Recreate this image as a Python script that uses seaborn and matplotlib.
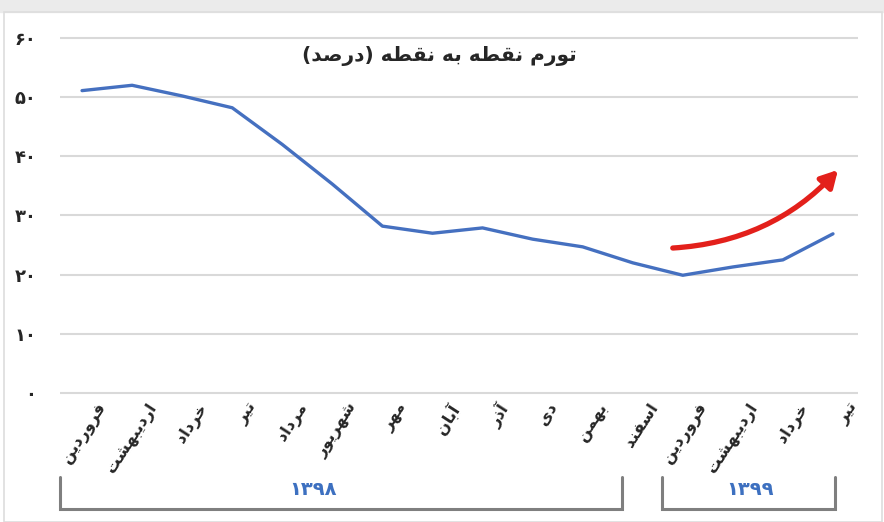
import numpy as np
import pandas as pd
import matplotlib.pyplot as plt
import seaborn as sns
from matplotlib.patches import Rectangle
from matplotlib.transforms import blended_transform_factory

# data
months = ['فروردین', 'اردیبهشت', 'خرداد', 'تیر', 'مرداد', 'شهریور', 'مهر', 'آبان',
          'آذر', 'دی', 'بهمن', 'اسفند', 'فروردین', 'اردیبهشت', 'خرداد', 'تیر']
inflation = [51.1, 52.0, 50.2, 48.2, 42.0, 35.3, 28.2, 27.0,
             27.9, 26.0, 24.7, 22.0, 19.9, 21.3, 22.5, 26.9]
y_ticks = [0, 10, 20, 30, 40, 50, 60]
y_tick_labels = ['۰', '۱۰', '۲۰', '۳۰', '۴۰', '۵۰', '۶۰']
years = ['۱۳۹۸', '۱۳۹۹']
title = 'تورم نقطه به نقطه (درصد)'

################################################################################################
# matplotlib does no arabic shaping, so pick presentation forms by hand
# (isolated, final, initial, medial) ; right-joining letters have no initial / medial
FORMS = {
    'ا': ('\uFE8D', '\uFE8E', None, None),
    'آ': ('\uFE81', '\uFE82', None, None),
    'ب': ('\uFE8F', '\uFE90', '\uFE91', '\uFE92'),
    'ت': ('\uFE95', '\uFE96', '\uFE97', '\uFE98'),
    'خ': ('\uFEA5', '\uFEA6', '\uFEA7', '\uFEA8'),
    'د': ('\uFEA9', '\uFEAA', None, None),
    'ذ': ('\uFEAB', '\uFEAC', None, None),
    'ر': ('\uFEAD', '\uFEAE', None, None),
    'ز': ('\uFEAF', '\uFEB0', None, None),
    'س': ('\uFEB1', '\uFEB2', '\uFEB3', '\uFEB4'),
    'ش': ('\uFEB5', '\uFEB6', '\uFEB7', '\uFEB8'),
    'ص': ('\uFEB9', '\uFEBA', '\uFEBB', '\uFEBC'),
    'ط': ('\uFEC1', '\uFEC2', '\uFEC3', '\uFEC4'),
    'ف': ('\uFED1', '\uFED2', '\uFED3', '\uFED4'),
    'ق': ('\uFED5', '\uFED6', '\uFED7', '\uFED8'),
    'م': ('\uFEE1', '\uFEE2', '\uFEE3', '\uFEE4'),
    'ن': ('\uFEE5', '\uFEE6', '\uFEE7', '\uFEE8'),
    'ه': ('\uFEE9', '\uFEEA', '\uFEEB', '\uFEEC'),
    'و': ('\uFEED', '\uFEEE', None, None),
    'ی': ('\uFBFC', '\uFBFD', '\uFBFE', '\uFBFF'),
}
MIRROR = {'(': ')', ')': '('}


def shape(text):
    '''
    returns the persian text in visual (left to right) order with joined letter forms
    '''
    out = []
    for i, ch in enumerate(text):
        if ch not in FORMS:
            out.append(MIRROR.get(ch, ch))
            continue
        prev = text[i - 1] if i > 0 else ''
        nxt = text[i + 1] if i + 1 < len(text) else ''
        prev_joins = prev in FORMS and FORMS[prev][2] is not None
        next_joins = nxt in FORMS
        dual = FORMS[ch][2] is not None
        if prev_joins and next_joins and dual:
            out.append(FORMS[ch][3])
        elif prev_joins:
            out.append(FORMS[ch][1])
        elif next_joins and dual:
            out.append(FORMS[ch][2])
        else:
            out.append(FORMS[ch][0])
    return ''.join(out[::-1])

################################################################################################
df = pd.DataFrame({'pos': np.arange(len(months)), 'inflation': inflation})

sns.set_style('white')
plt.rcParams['font.family'] = ['DejaVu Sans']

fig = plt.figure(figsize=(8.84, 5.22), dpi=100)
fig.patch.set_facecolor('white')
fig.patches.append(Rectangle((0, 0.977), 1, 0.023, transform=fig.transFigure,
                             color='#ebebeb', zorder=0))
fig.patches.append(Rectangle((0.004, 0.0), 0.994, 0.977, transform=fig.transFigure,
                             fill=False, edgecolor='#dddddd', lw=1.2, zorder=0))

ax = fig.add_axes([0.0679, 0.2437, 0.9027, 0.687])
ax.set_facecolor('none')

sns.lineplot(data=df, x='pos', y='inflation', ax=ax, color='#4570c0', lw=2.4)

ax.set_ylim(-0.3, 60.3)
ax.set_xlim(-0.44, 15.5)
ax.set_yticks(y_ticks)
ax.set_yticklabels(y_tick_labels, fontsize=13, fontweight='bold')
ax.yaxis.grid(True, color='#d9d9d9', lw=1.5)
ax.set_axisbelow(True)
ax.tick_params(axis='y', length=0, pad=17)
ax.tick_params(axis='x', length=0, pad=4)
ax.set_xticks(df['pos'] + 0.3)
ax.set_xticklabels([shape(m) for m in months], rotation=57, ha='right', va='top',
                   rotation_mode='anchor', fontsize=11.5, fontweight='bold')
ax.set_xlabel('')
ax.set_ylabel('')
for s in ax.spines.values():
    s.set_visible(False)

ax.text(0.476, 0.946, shape(title), transform=ax.transAxes, ha='center', va='center',
        fontsize=14.5, fontweight='bold')

# red trend arrow
ax.annotate('', xy=(15.1, 37.7), xytext=(11.8, 24.5),
            arrowprops=dict(arrowstyle='-|>,head_length=1.0,head_width=0.55', color='#e3201b',
                            lw=3.8, connectionstyle='arc3,rad=0.2', shrinkA=0, shrinkB=0))

# year brackets under the month labels
trans = blended_transform_factory(ax.transData, ax.transAxes)
bracket_edges = [(-0.44, 10.78), (11.58, 15.04)]
year_x = [4.61, 13.34]
for (x0, x1), yr, xt in zip(bracket_edges, years, year_x):
    ax.plot([x0, x0, x1, x1], [-0.23, -0.318, -0.318, -0.23], transform=trans,
            color='#7f7f7f', lw=2.2, clip_on=False, solid_joinstyle='miter')
    ax.text(xt, -0.265, yr, transform=trans, ha='center', va='center',
            fontsize=14, fontweight='bold', color='#3d70c0')

plt.savefig('out.png', dpi=100)
